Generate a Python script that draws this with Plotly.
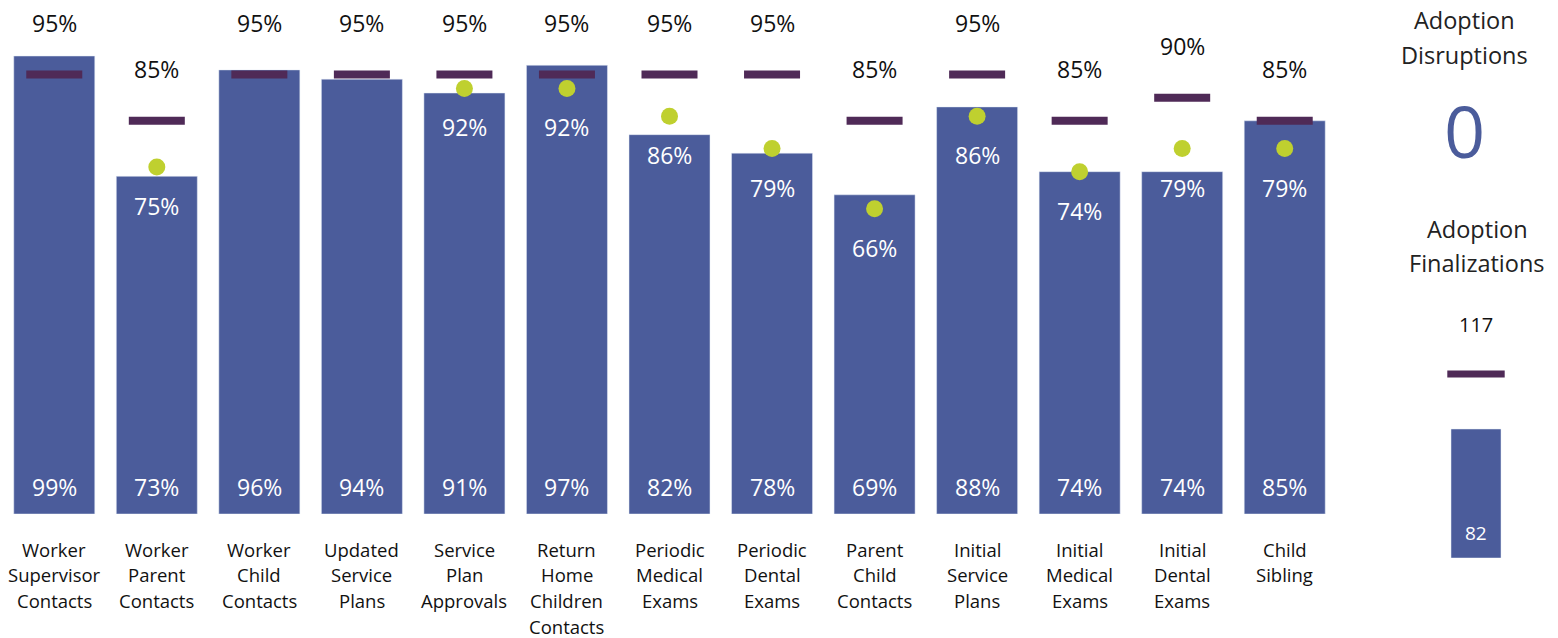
import plotly.graph_objects as go

categories = ["Worker Supervisor Contacts", "Worker Parent Contacts", "Worker Child Contacts",
              "Updated Service Plans", "Service Plan Approvals", "Return Home Children Contacts",
              "Periodic Medical Exams", "Periodic Dental Exams", "Parent Child Contacts",
              "Initial Service Plans", "Initial Medical Exams", "Initial Dental Exams", "Child Sibling"]
actual = [99, 73, 96, 94, 91, 97, 82, 78, 69, 88, 74, 74, 85]
target = [95, 85, 95, 95, 95, 95, 95, 95, 85, 95, 85, 90, 85]
prior = [None, 75, None, None, 92, 92, 86, 79, 66, 86, 74, 79, 79]

disruptions = 0
final_label = ["Adoption Finalizations"]
final_actual = [82]
final_target = [117]

BAR = "#4B5C9B"
DASH = "#4F2A57"
GREEN = "#BFD02F"
FONT = "Open Sans"

fig = go.Figure()
fig.add_trace(go.Bar(x=categories, y=actual, marker_color=BAR, width=0.79,
                     hoverinfo="skip", showlegend=False))
fig.add_trace(go.Scatter(x=categories, y=target, mode="markers",
                         marker=dict(symbol="line-ew", size=40, line=dict(width=8, color=DASH)),
                         hoverinfo="skip", showlegend=False))
fig.add_trace(go.Scatter(x=categories, y=prior, mode="markers",
                         marker=dict(symbol="circle", size=17, color=GREEN, line=dict(width=0)),
                         hoverinfo="skip", showlegend=False))

# Finalizations mini chart
fig.add_trace(go.Bar(x=final_label, y=final_actual, marker_color=BAR, width=0.5,
                     xaxis="x2", yaxis="y2", hoverinfo="skip", showlegend=False))
fig.add_trace(go.Scatter(x=final_label, y=final_target, mode="markers", xaxis="x2", yaxis="y2",
                         marker=dict(symbol="line-ew", size=41, line=dict(width=7, color=DASH)),
                         hoverinfo="skip", showlegend=False))

ann = []
for c, a, t, p in zip(categories, actual, target, prior):
    ann.append(dict(x=c, y=0, xref="x", yref="y", text=f"{a}%", showarrow=False,
                    yshift=27, font=dict(family=FONT, size=23, color="white")))
    ann.append(dict(x=c, y=t, xref="x", yref="y", text=f"{t}%", showarrow=False,
                    yshift=52, font=dict(family=FONT, size=23, color="#111111")))
    if p is not None:
        ann.append(dict(x=c, y=p, xref="x", yref="y", text=f"{p}%", showarrow=False,
                        yshift=-39, font=dict(family=FONT, size=23, color="white")))
    for i, w in enumerate(c.split(" ")):
        ann.append(dict(x=c, y=0, xref="x", yref="y", text=w, showarrow=False,
                        yshift=-35 - 25.8 * i, font=dict(family=FONT, size=18.5, color="#111111")))

ann.append(dict(x=final_label[0], y=final_actual[0], xref="x2", yref="y2", text=str(final_actual[0]),
                showarrow=False, yshift=-104, font=dict(family=FONT, size=19, color="white")))
ann.append(dict(x=final_label[0], y=final_target[0], xref="x2", yref="y2", text=str(final_target[0]),
                showarrow=False, yshift=49, font=dict(family=FONT, size=20, color="#111111")))

def paper_y(py):
    return 1 - py / 638

for txt, px, py in [("Adoption", 1464, 20), ("Disruptions", 1464, 55),
                    ("Adoption", 1477, 229), ("Finalizations", 1477, 263)]:
    ann.append(dict(x=px / 1558, y=paper_y(py), xref="paper", yref="paper",
                    text=txt, showarrow=False, yanchor="middle", xanchor="center",
                    font=dict(family=FONT, size=23.5, color="#222222")))
ann.append(dict(x=1464 / 1558, y=paper_y(130), xref="paper", yref="paper", text=str(disruptions),
                showarrow=False, yanchor="middle", xanchor="center",
                font=dict(family=FONT, size=72, color=BAR)))

fig.update_layout(
    width=1558, height=638,
    margin=dict(l=0, r=0, t=0, b=0),
    paper_bgcolor="white", plot_bgcolor="white",
    xaxis=dict(domain=[3 / 1558, 1336 / 1558], range=[-0.5, 12.5], showticklabels=False,
               showgrid=False, zeroline=False, showline=False, ticks=""),
    yaxis=dict(domain=[124 / 638, 1], range=[0, 514 / 4.626], showticklabels=False,
               showgrid=False, zeroline=False, showline=False),
    xaxis2=dict(domain=[1426 / 1558, 1526 / 1558], range=[-0.5, 0.5], showticklabels=False,
                showgrid=False, zeroline=False, showline=False, anchor="y2"),
    yaxis2=dict(domain=[80 / 638, 1], range=[0, 558 / 1.573], showticklabels=False,
                showgrid=False, zeroline=False, showline=False, anchor="x2"),
    annotations=ann,
)

fig.write_html("out.html", config={"displayModeBar": False},
               post_script="document.body.style.margin='0px';")
